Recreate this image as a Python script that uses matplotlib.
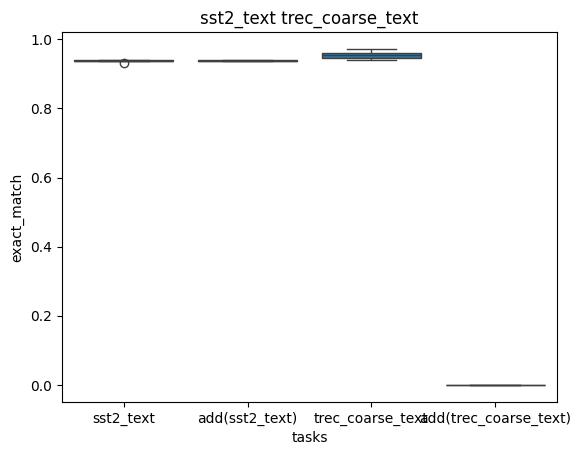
import matplotlib
matplotlib.use("Agg")
import matplotlib.pyplot as plt
import seaborn as sns
import pandas as pd

tasks = ["sst2_text", "add(sst2_text)", "trec_coarse_text", "add(trec_coarse_text)"]
sst2_vals = [0.936, 0.937, 0.938, 0.938, 0.939, 0.940, 0.930]
add_sst2_vals = [0.936, 0.937, 0.938, 0.938, 0.939, 0.940, 0.941]
trec_vals = [0.940, 0.946, 0.946, 0.954, 0.960, 0.960, 0.972]
add_trec_vals = [0.0, 0.0, 0.0, 0.0, 0.0, 0.0, 0.0]

rows = []
for t, vals in zip(tasks, [sst2_vals, add_sst2_vals, trec_vals, add_trec_vals]):
    for v in vals:
        rows.append({"tasks": t, "exact_match": v})
df = pd.DataFrame(rows)

fig = plt.figure(figsize=(5.81, 4.55), dpi=100)
ax = fig.add_axes([62/581, (455-402)/455, 495/581, 370/455])
sns.boxplot(data=df, x="tasks", y="exact_match", ax=ax)
ax.set_title("sst2_text trec_coarse_text")
fig.savefig("out.png", dpi=100)
